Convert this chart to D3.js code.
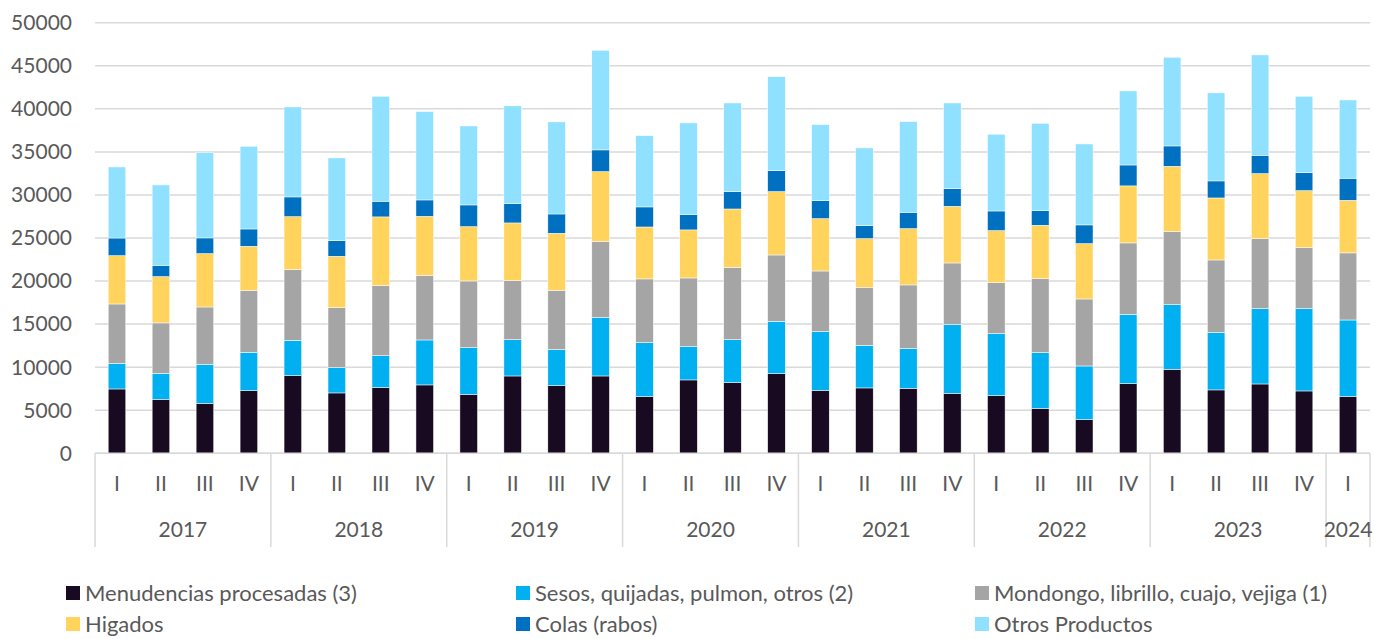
<!DOCTYPE html>
<html>
<head>
<meta charset="utf-8">
<script src="https://cdn.jsdelivr.net/npm/d3@7"></script>
<style>
  body { margin: 0; background: #fff; }
  svg { font-family: Lato, "Liberation Sans", sans-serif; }
</style>
</head>
<body>
<svg id="chart"></svg>
<script>
const YEARS = ["2017","2018","2019","2020","2021","2022","2023","2024"];
const QUARTERS = ["I","II","III","IV"];
const PERIODS = YEARS.flatMap(y => y === "2024" ? [y + "-I"] : QUARTERS.map(q => y + "-" + q));

const SERIES = [
  "Menudencias procesadas (3)",
  "Sesos, quijadas, pulmon, otros (2)",
  "Mondongo, librillo, cuajo, vejiga (1)",
  "Higados",
  "Colas (rabos)",
  "Otros Productos"
];
const COLORS = ["#180a20", "#00b0f0", "#a5a5a5", "#ffd35c", "#0070c0", "#90e0ff"];

const menudencias = [7470,6270,5810,7280, 9020,7010,7630,7940, 6850,8980,7860,8980, 6580,8520,8210,9250, 7320,7590,7550,6970, 6700,5230,3910,8090, 9760,7360,8050,7240, 6620];
const sesos       = [2980,3020,4530,4450, 4100,2940,3710,5220, 5420,4220,4220,6780, 6270,3870,4990,6080, 6810,4950,4640,7970, 7200,6500,6230,8050, 7510,6690,8750,9560, 8860];
const mondongo    = [6890,5850,6650,7200, 8210,6970,8130,7510, 7740,6850,6850,8860, 7400,7970,8400,7700, 7040,6700,7360,7160, 5920,8550,7780,8290, 8470,8400,8130,7080, 7790];
const higados     = [5610,5380,6200,5110, 6150,5960,7980,6850, 6310,6700,6620,8090, 6030,5580,6770,7360, 6080,5690,6540,6580, 6040,6200,6430,6620, 7590,7200,7550,6620, 6110];
const colas       = [2050,1310,1820,2010, 2290,1820,1820,1900, 2520,2240,2240,2520, 2330,1780,2020,2440, 2090,1510,1900,2060, 2280,1700,2170,2430, 2360,1980,2130,2090, 2560];
const otros       = [8250,9330,9910,9600, 10450,9600,12190,10260, 9170,11350,10690,11570, 8280,10640,10290,10910, 8830,9020,10530,9940, 8910,10140,9400,8600, 10300,10220,11650,8870, 9090];

const Y_TICKS = [0,5000,10000,15000,20000,25000,30000,35000,40000,45000,50000];

const WIDTH = 1374, HEIGHT = 639;
const PLOT = {left: 95, right: 1370, top: 22.7, bottom: 453.3};
const GRID = "#d9d9d9", TEXT = "#595959";

const values = [menudencias, sesos, mondongo, higados, colas, otros];
const table = PERIODS.map((p, i) => {
  const row = {period: p};
  SERIES.forEach((s, k) => row[s] = values[k][i]);
  return row;
});

const svg = d3.select("#chart").attr("width", WIDTH).attr("height", HEIGHT);

const x = d3.scaleBand().domain(PERIODS).range([PLOT.left, PLOT.right]).paddingInner(0.6).paddingOuter(0.3);
const y = d3.scaleLinear().domain([0, 50000]).range([PLOT.bottom, PLOT.top]);

// gridlines + y labels
svg.append("g")
  .selectAll("line")
  .data(Y_TICKS)
  .join("line")
  .attr("x1", PLOT.left).attr("x2", PLOT.right)
  .attr("y1", d => y(d)).attr("y2", d => y(d))
  .attr("stroke", GRID).attr("stroke-width", 1.5);

svg.append("g")
  .selectAll("text")
  .data(Y_TICKS)
  .join("text")
  .attr("x", 72).attr("y", d => y(d))
  .attr("dy", "0.35em")
  .attr("text-anchor", "end")
  .attr("fill", TEXT).attr("font-size", 21)
  .text(d => d);

// stacked bars
const stack = d3.stack().keys(SERIES)(table);
const color = d3.scaleOrdinal().domain(SERIES).range(COLORS);

svg.append("g")
  .selectAll("g")
  .data(stack)
  .join("g")
  .attr("fill", d => color(d.key))
  .selectAll("rect")
  .data(d => d)
  .join("rect")
  .attr("x", d => x(d.data.period))
  .attr("width", x.bandwidth())
  .attr("y", d => y(d[1]))
  .attr("height", d => y(d[0]) - y(d[1]))
  .attr("stroke", "#fff").attr("stroke-width", 0.5);

// x axis: quarters and years
const step = x.step();
const xAxis = svg.append("g");
xAxis.append("line")
  .attr("x1", PLOT.left).attr("x2", PLOT.right)
  .attr("y1", PLOT.bottom).attr("y2", PLOT.bottom)
  .attr("stroke", GRID).attr("stroke-width", 1.5);

xAxis.selectAll(".q")
  .data(PERIODS)
  .join("text")
  .attr("class", "q")
  .attr("x", d => x(d) + x.bandwidth() / 2)
  .attr("y", 484).attr("dy", "0.35em")
  .attr("text-anchor", "middle")
  .attr("fill", TEXT).attr("font-size", 21)
  .text(d => d.split("-")[1]);

const groups = YEARS.map(yr => {
  const ps = PERIODS.filter(p => p.startsWith(yr));
  const x0 = x(ps[0]) - x.paddingOuter() * step;
  return {year: yr, x0: x0, x1: x0 + ps.length * step};
});

const seps = [PLOT.left].concat(groups.map(g => g.x1));
xAxis.selectAll(".sep")
  .data(seps)
  .join("line")
  .attr("class", "sep")
  .attr("x1", d => d).attr("x2", d => d)
  .attr("y1", PLOT.bottom).attr("y2", 547)
  .attr("stroke", GRID).attr("stroke-width", 1.5);

xAxis.selectAll(".yr")
  .data(groups)
  .join("text")
  .attr("class", "yr")
  .attr("x", d => (d.x0 + d.x1) / 2)
  .attr("y", 530).attr("dy", "0.35em")
  .attr("text-anchor", "middle")
  .attr("fill", TEXT).attr("font-size", 21)
  .text(d => d.year);

// legend
const LEG_X = [66, 516, 975];
const LEG_Y = [593, 624];
const legend = svg.append("g")
  .selectAll("g")
  .data(SERIES)
  .join("g")
  .attr("transform", (d, i) => `translate(${LEG_X[i % 3]},${LEG_Y[Math.floor(i / 3)]})`);
legend.append("rect")
  .attr("x", 0).attr("y", -7).attr("width", 14).attr("height", 14)
  .attr("fill", d => color(d));
legend.append("text")
  .attr("x", 19).attr("dy", "0.35em")
  .attr("fill", TEXT).attr("font-size", 22)
  .text(d => d);
</script>
</body>
</html>
